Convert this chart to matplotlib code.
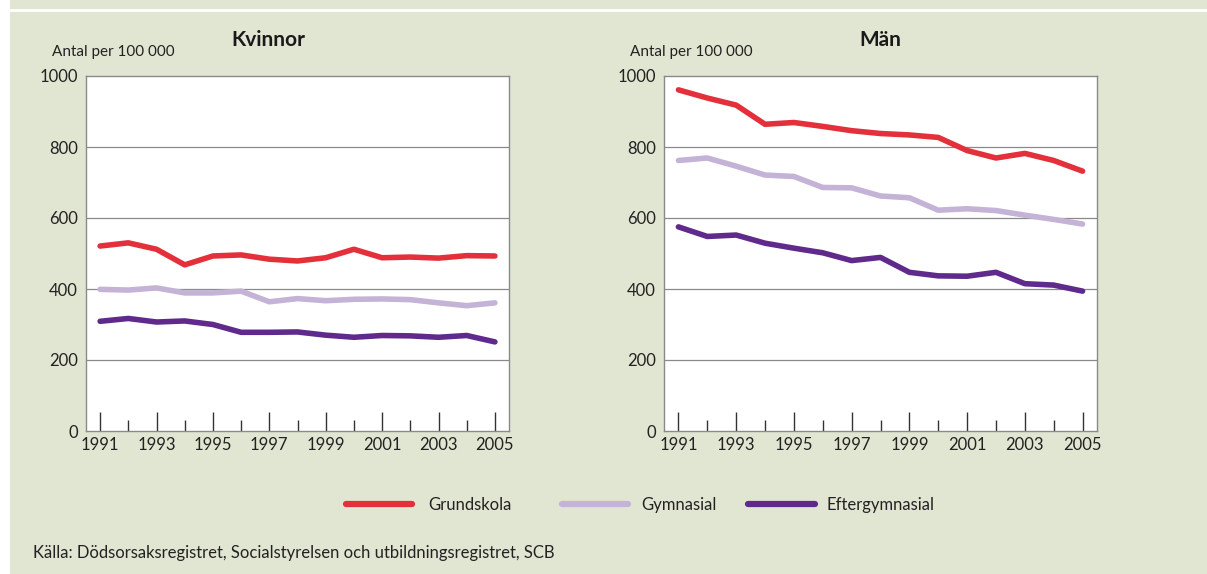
import matplotlib
matplotlib.use("Agg")
import matplotlib.pyplot as plt
from matplotlib.patches import Rectangle
from matplotlib.lines import Line2D

plt.rcParams['font.family'] = ['Lato', 'DejaVu Sans']

years = list(range(1991, 2006))
tick_years = [1991, 1993, 1995, 1997, 1999, 2001, 2003, 2005]
yticks = [0, 200, 400, 600, 800, 1000]

series_names = ["Grundskola", "Gymnasial", "Eftergymnasial"]
colors = ["#e3303a", "#c4b3d6", "#5f2a8c"]

kvinnor_grund = [521, 530, 512, 468, 493, 496, 484, 479, 488, 512, 488, 490, 487, 494, 493]
kvinnor_gymn = [399, 397, 403, 389, 389, 394, 364, 373, 367, 371, 372, 370, 361, 353, 361]
kvinnor_efter = [309, 317, 307, 310, 300, 278, 278, 279, 270, 264, 269, 268, 264, 269, 251]

man_grund = [961, 938, 918, 864, 869, 858, 846, 838, 834, 827, 790, 769, 782, 762, 732]
man_gymn = [762, 769, 746, 721, 717, 686, 685, 662, 657, 622, 626, 621, 608, 596, 583]
man_efter = [575, 548, 552, 529, 515, 502, 480, 489, 447, 437, 436, 447, 415, 411, 394]

W, H = 1207, 574
fig = plt.figure(figsize=(W / 100, H / 100), dpi=100)
fig.patch.set_facecolor("white")
bg = "#e1e6d2"
fig.add_artist(Rectangle((10 / W, 0), 1 - 10 / W, 1, transform=fig.transFigure,
                         facecolor=bg, edgecolor="none", zorder=-10))
fig.add_artist(Line2D([10 / W, 1], [1 - 10 / H, 1 - 10 / H], transform=fig.transFigure,
                      color="white", lw=2, zorder=-5))


def px_axes(x0, x1, y0, y1):
    return fig.add_axes([x0 / W, 1 - y1 / H, (x1 - x0) / W, (y1 - y0) / H])


panels = [
    ("Kvinnor", (86, 509), [kvinnor_grund, kvinnor_gymn, kvinnor_efter], 268, 52),
    ("Män", (664, 1097), [man_grund, man_gymn, man_efter], 880, 630),
]

for title, (x0, x1), data, tx, lx in panels:
    ax = px_axes(x0, x1, 76, 431)
    ax.set_facecolor("white")
    for vals, c in zip(data, colors):
        ax.plot(years, vals, color=c, lw=4, solid_capstyle="round", solid_joinstyle="round", zorder=3)
    ax.set_xlim(1990.5, 2005.5)
    ax.set_ylim(0, 1000)
    ax.set_yticks(yticks)
    ax.set_yticklabels([str(v) for v in yticks], fontsize=12, color="#222222")
    ax.set_xticks(tick_years)
    ax.set_xticklabels([str(v) for v in tick_years], fontsize=12, color="#222222")
    ax.set_xticks([y for y in years if y not in tick_years], minor=True)
    ax.tick_params(axis="x", which="major", direction="in", length=14, width=1, color="#333333", pad=4)
    ax.tick_params(axis="x", which="minor", direction="in", length=8, width=1, color="#333333")
    ax.tick_params(axis="y", length=0, pad=6)
    for y in [200, 400, 600, 800]:
        ax.axhline(y, color="#8a8a8a", lw=0.9, zorder=1)
    for s in ax.spines.values():
        s.set_color("#8a8a8a")
        s.set_linewidth(1.0)
    fig.text(tx / W, 1 - 40 / H, title, ha="center", va="center", fontsize=15,
             fontweight="bold", color="#1a1a1a")
    fig.text(lx / W, 1 - 52 / H, "Antal per 100 000", ha="left", va="center",
             fontsize=11, color="#222222")

# Legend
leg_items = [(346, 412, 428), (562, 628, 641), (748, 815, 826)]
for (l0, l1, tx), name, c in zip(leg_items, series_names, colors):
    fig.add_artist(Line2D([l0 / W, l1 / W], [1 - 504 / H, 1 - 504 / H], transform=fig.transFigure,
                          color=c, lw=4.5, solid_capstyle="round"))
    fig.text(tx / W, 1 - 505 / H, name, ha="left", va="center", fontsize=12, color="#222222")

fig.text(33 / W, 1 - 553 / H, "Källa: Dödsorsaksregistret, Socialstyrelsen och utbildningsregistret, SCB",
         ha="left", va="center", fontsize=12, color="#222222")

fig.savefig("out.png", dpi=100, facecolor=fig.get_facecolor())
